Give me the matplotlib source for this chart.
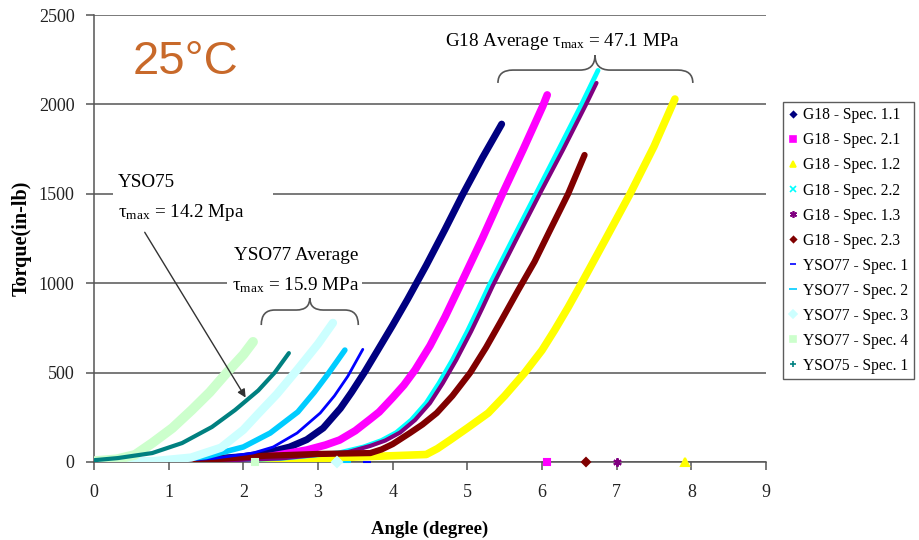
import matplotlib
matplotlib.use('Agg')
import matplotlib.pyplot as plt
from matplotlib.lines import Line2D
from matplotlib.patches import Rectangle, PathPatch
from matplotlib.path import Path

plt.rcParams['font.family'] = ['Liberation Serif', 'DejaVu Serif']
plt.rcParams['mathtext.fontset'] = 'custom'
plt.rcParams['mathtext.rm'] = 'Liberation Serif'
plt.rcParams['mathtext.it'] = 'Liberation Serif:italic'

# データ
g18_11_x = [0, 1.0, 1.5, 2.0, 2.3, 2.62, 2.85, 3.07, 3.3, 3.45, 3.62, 3.8, 4.0, 4.2, 4.45, 4.7, 4.93, 5.2, 5.46]
g18_11_y = [0, 5, 15, 30, 50, 84, 125, 190, 300, 390, 500, 625, 765, 910, 1100, 1300, 1490, 1700, 1890]

g18_21_x = [0, 1.5, 2.2, 2.85, 3.1, 3.29, 3.5, 3.7, 3.82, 4.0, 4.15, 4.3, 4.5, 4.7, 4.9, 5.2, 5.47, 5.75, 6.01, 6.07]
g18_21_y = [0, 5, 20, 67, 95, 123, 175, 240, 280, 360, 430, 515, 650, 810, 985, 1250, 1500, 1750, 1990, 2053]

g18_12_x = [0, 1.5, 2.5, 3.0, 3.5, 4.0, 4.45, 4.6, 4.77, 5.0, 5.28, 5.5, 5.77, 6.0, 6.17, 6.35, 6.53, 6.85, 7.18, 7.5, 7.78]
g18_12_y = [0, 3, 8, 15, 28, 35, 42, 75, 123, 190, 274, 370, 500, 625, 738, 865, 1000, 1245, 1500, 1765, 2030]

g18_22_x = [0, 1.5, 2.5, 3.0, 3.29, 3.61, 3.85, 4.05, 4.25, 4.45, 4.62, 4.8, 5.0, 5.15, 5.29, 5.6, 5.92, 6.22, 6.53, 6.75]
g18_22_y = [0, 5, 20, 40, 52, 84, 120, 165, 235, 330, 440, 570, 730, 860, 985, 1240, 1500, 1745, 2000, 2190]

g18_13_x = [0, 1.5, 2.5, 3.0, 3.4, 3.7, 3.9, 4.1, 4.3, 4.5, 4.67, 4.85, 5.05, 5.2, 5.34, 5.65, 5.97, 6.28, 6.59, 6.73]
g18_13_y = [0, 5, 20, 40, 55, 90, 120, 165, 235, 330, 440, 570, 730, 860, 985, 1240, 1500, 1745, 2000, 2120]

g18_23_x = [0, 1.0, 1.6, 2.3, 3.0, 3.7, 3.85, 4.0, 4.23, 4.4, 4.59, 4.8, 5.04, 5.25, 5.44, 5.68, 5.9, 6.1, 6.35, 6.57]
g18_23_y = [0, 5, 15, 35, 45, 50, 70, 100, 162, 210, 274, 370, 500, 640, 780, 960, 1120, 1290, 1500, 1717]

yso77_1_x = [0, 1.0, 1.6, 2.13, 2.40, 2.72, 3.03, 3.22, 3.40, 3.60]
yso77_1_y = [0, 5, 20, 50, 84, 162, 274, 370, 480, 630]

yso77_2_x = [0, 1.0, 1.5, 2.0, 2.36, 2.73, 2.95, 3.13, 3.36]
yso77_2_y = [0, 8, 30, 84, 162, 280, 390, 490, 626]

yso77_3_x = [0, 0.8, 1.3, 1.7, 2.0, 2.2, 2.45, 2.73, 3.0, 3.20]
yso77_3_y = [0, 5, 25, 80, 180, 270, 380, 520, 660, 778]

yso77_4_x = [0, 0.3, 0.55, 0.78, 1.05, 1.31, 1.55, 1.78, 2.0, 2.13]
yso77_4_y = [5, 15, 40, 106, 190, 291, 390, 500, 600, 672]

yso75_1_x = [0, 0.32, 0.78, 1.18, 1.58, 1.89, 2.2, 2.42, 2.61]
yso75_1_y = [10, 22, 50, 106, 196, 291, 400, 500, 609]

# 破断後の点 (トルク 0)
fail_angle = [None, 6.07, 7.92, None, 7.0, 6.59, 3.65, 3.38, 3.25, 2.16, None]

labels = ['G18 - Spec. 1.1', 'G18 - Spec. 2.1', 'G18 - Spec. 1.2', 'G18 - Spec. 2.2',
          'G18 - Spec. 1.3', 'G18 - Spec. 2.3', 'YSO77 - Spec. 1', 'YSO77 - Spec. 2',
          'YSO77 - Spec. 3', 'YSO77 - Spec. 4', 'YSO75 - Spec. 1']
series = [(g18_11_x, g18_11_y), (g18_21_x, g18_21_y), (g18_12_x, g18_12_y),
          (g18_22_x, g18_22_y), (g18_13_x, g18_13_y), (g18_23_x, g18_23_y),
          (yso77_1_x, yso77_1_y), (yso77_2_x, yso77_2_y), (yso77_3_x, yso77_3_y),
          (yso77_4_x, yso77_4_y), (yso75_1_x, yso75_1_y)]
colors = ['#000080', '#FF00FF', '#FFFF00', '#00FFFF', '#800080', '#800000',
          '#0000FF', '#00CCFF', '#CCFFFF', '#CCFFCC', '#008080']
markers = ['D', 's', '^', 'x', (6, 2, 0), 'D', '_', '_', 'D', 's', '+']
msizes = [3, 4, 5, 4, 5, 3, 5, 6, 4, 4, 4]
widths = [5, 5.5, 5.5, 3.5, 3.0, 4.5, 2.0, 4.0, 6.0, 7.0, 3.0]

fig = plt.figure(figsize=(9.19, 5.40), dpi=100)
ax = fig.add_axes([94 / 919, 78 / 540, 672 / 919, 447 / 540])

for (x, y), c, w, m, ms, fa in zip(series, colors, widths, markers, msizes, fail_angle):
    ax.plot(x, y, color=c, lw=w, solid_capstyle='round', solid_joinstyle='round', zorder=3)
    if fa is not None:
        ax.plot([fa], [0], marker=m, color=c, ms=ms + 1, mew=1.5, ls='none', zorder=4, clip_on=False)

ax.set_xlim(0, 9)
ax.set_ylim(0, 2500)
ax.set_xticks(range(10))
ax.set_yticks(range(0, 2501, 500))
ax.yaxis.grid(True, color='#555555', lw=1.1, zorder=1)
ax.set_axisbelow(True)
for s in ['top', 'right']:
    ax.spines[s].set_visible(False)
for s in ['left', 'bottom']:
    ax.spines[s].set_color('#555555')
    ax.spines[s].set_linewidth(1.1)
ax.tick_params(axis='both', colors='#555555', length=6, width=1.1, labelsize=13, labelcolor='#222222')
ax.tick_params(axis='x', pad=10)
ax.tick_params(axis='y', pad=8)
ax.set_xlabel('Angle (degree)', fontweight='bold', fontsize=13.5, labelpad=14)
ax.set_ylabel('Torque(in-lb)', fontweight='bold', fontsize=14.5, labelpad=5)

# テキストボックス (白背景でグリッドを隠す)
ax.add_patch(Rectangle((0.25, 1290), 2.15, 360, facecolor='white', edgecolor='none', zorder=2))
ax.add_patch(Rectangle((1.78, 920), 1.81, 320, facecolor='white', edgecolor='none', zorder=2))

fs = 13.8
ax.text(0.32, 1565, 'YSO75', fontsize=fs, va='center', zorder=5)
ax.text(0.32, 1393, 'τ$_{\\mathrm{max}}$ = 14.2 Mpa', fontsize=fs, va='center', zorder=5)
ax.text(2.71, 1155, 'YSO77 Average', fontsize=fs, va='center', ha='center', zorder=5)
ax.text(2.71, 990, 'τ$_{\\mathrm{max}}$ = 15.9 MPa', fontsize=fs, va='center', ha='center', zorder=5)
ax.text(6.27, 2352, 'G18 Average τ$_{\\mathrm{max}}$ = 47.1 MPa', fontsize=fs, va='center', ha='center', zorder=5)
ax.text(0.52, 2235, '25°C', fontsize=34, color='#C8692A', family='Liberation Sans', va='center', zorder=5)

ax.annotate('', xy=(2.05, 347), xytext=(0.66, 1298),
            arrowprops=dict(arrowstyle='-|>', color='#333333', lw=1.0, mutation_scale=12), zorder=6)


def brace(x0, x1, xm, yb, yh, yt, r):
    verts = [(x0, yb), (x0, yh), (x0 + r, yh), (xm - r, yh), (xm, yh), (xm, yt),
             (xm, yh), (xm + r, yh), (x1 - r, yh), (x1, yh), (x1, yb)]
    codes = [Path.MOVETO, Path.CURVE3, Path.CURVE3, Path.LINETO, Path.CURVE3, Path.CURVE3,
             Path.CURVE3, Path.CURVE3, Path.LINETO, Path.CURVE3, Path.CURVE3]
    ax.add_patch(PathPatch(Path(verts, codes), fill=False, edgecolor='#555555', lw=1.2, zorder=6))


brace(5.41, 8.02, 6.71, 2120, 2192, 2276, 0.2)
brace(2.24, 3.54, 2.89, 766, 850, 917, 0.18)

handles = [Line2D([], [], ls='none', marker=m, color=c, ms=ms, mew=1.2)
           for m, c, ms in zip(markers, colors, msizes)]
leg = fig.legend(handles, labels, loc='upper left', bbox_to_anchor=(783 / 919, 1 - 102 / 540),
                 fontsize=11.2, frameon=True, fancybox=False, edgecolor='#333333',
                 handlelength=0.6, handletextpad=0.35, labelspacing=0.58, borderpad=0.35,
                 borderaxespad=0)
leg.get_frame().set_linewidth(1.0)

fig.savefig('out.png', dpi=100)
